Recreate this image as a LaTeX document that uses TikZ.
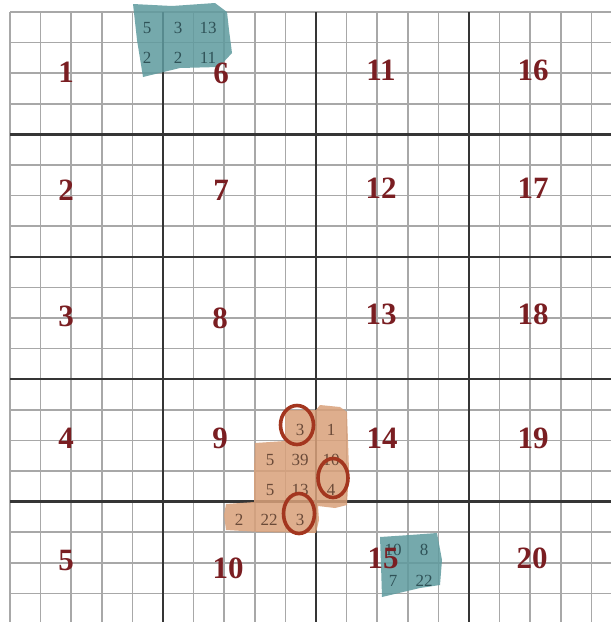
\documentclass[tikz,border=0pt]{standalone}
\usepackage{fontspec}
\setmainfont{Liberation Serif}
\definecolor{numred}{HTML}{7A1E22}
\definecolor{thinc}{HTML}{A8A8A8}
\definecolor{thickc}{HTML}{353535}
\definecolor{tealp}{HTML}{5E9A9E}
\definecolor{orangep}{HTML}{D9A07A}
\definecolor{circc}{HTML}{A3361F}
\definecolor{tealtext}{HTML}{2F5257}
\definecolor{oratext}{HTML}{6A4A38}
\tikzset{
  thinline/.style={draw=thinc, line width=1.7pt},
  thickline/.style={draw=thickc, line width=2.4pt},
  bignum/.style={text=numred, font=\fontsize{31}{31}\selectfont\bfseries, anchor=base, inner sep=0pt},
  tealnum/.style={text=tealtext, font=\fontsize{17}{17}\selectfont, anchor=base, inner sep=0pt},
  oranum/.style={text=oratext, font=\fontsize{17}{17}\selectfont, anchor=base, inner sep=0pt},
  tealpatch/.style={fill=tealp, fill opacity=0.85, draw=none},
  orapatch/.style={fill=orangep, fill opacity=0.85, draw=none},
  ring/.style={draw=circc, line width=3.6pt}
}
\begin{document}
\begin{tikzpicture}[x=1pt,y=-1pt]
\useasboundingbox[fill=white] (0,0) rectangle (611,622);
% thin grid
\foreach \k in {0,...,19} {
  \draw[thinline] ({10+30.6*\k},12) -- ({10+30.6*\k},622);
  \draw[thinline] (10,{12+30.6*\k}) -- (611,{12+30.6*\k});
}
% thick grid
\foreach \k in {5,10,15} {
  \draw[thickline] ({10+30.6*\k},12) -- ({10+30.6*\k},622);
}
\foreach \k in {4,8,12,16} {
  \draw[thickline] (10,{12+30.6*\k}) -- (611,{12+30.6*\k});
}
% patches
\fill[tealpatch] (133,4) -- (172,6) -- (215,3) -- (227,12) -- (229,30) -- (232,53) -- (219,67) -- (180,68) -- (143,77) -- (137,40) -- cycle;
\fill[tealpatch] (380,537) -- (410,535) -- (437,533) -- (442,560) -- (440,585) -- (420,588) -- (382,597) -- (381,565) -- cycle;
\fill[orapatch] (285,410) -- (316,410) -- (320,405) -- (340,407) -- (347,412) -- (349,470) -- (347,505) -- (335,508) -- (318,506) -- (319,520) -- (316,533) -- (260,532) -- (226,530) -- (224,515) -- (226,504) -- (254,502) -- (254,470) -- (255,443) -- (285,441) -- cycle;
% teal numbers top
\node[tealnum] (t1) at (147,33) {5};
\node[tealnum] (t2) at (178,33) {3};
\node[tealnum] (t3) at (208,33) {13};
\node[tealnum] (t4) at (147,63) {2};
\node[tealnum] (t5) at (178,63) {2};
\node[tealnum] (t6) at (208,63) {11};
% teal numbers bottom
\node[tealnum] (b1) at (393,555) {10};
\node[tealnum] (b2) at (424,555) {8};
\node[tealnum] (b3) at (393,586) {7};
\node[tealnum] (b4) at (424,586) {22};
% orange numbers
\node[oranum] (o1) at (300,435) {3};
\node[oranum] (o2) at (331,435) {1};
\node[oranum] (o3) at (270,465) {5};
\node[oranum] (o4) at (300,465) {39};
\node[oranum] (o5) at (331,465) {10};
\node[oranum] (o6) at (270,495) {5};
\node[oranum] (o7) at (300,495) {13};
\node[oranum] (o8) at (331,495) {4};
\node[oranum] (o9) at (239,525) {2};
\node[oranum] (o10) at (269,525) {22};
\node[oranum] (o11) at (300,525) {3};
% rings
\draw[ring] (297,425) ellipse [x radius=16.5, y radius=19.5];
\draw[ring] (333,478) ellipse [x radius=15, y radius=19.5];
\draw[ring] (299,513.5) ellipse [x radius=15.5, y radius=20];
% big numbers
\node[bignum] (n1) at (66,82) {1};
\node[bignum] (n6) at (221,83) {6};
\node[bignum] (n11) at (381,80) {11};
\node[bignum] (n16) at (533,80) {16};
\node[bignum] (n2) at (66,200) {2};
\node[bignum] (n7) at (221,200) {7};
\node[bignum] (n12) at (381,198) {12};
\node[bignum] (n17) at (533,198) {17};
\node[bignum] (n3) at (66,326) {3};
\node[bignum] (n8) at (220,328) {8};
\node[bignum] (n13) at (381,324) {13};
\node[bignum] (n18) at (533,324) {18};
\node[bignum] (n4) at (66,448) {4};
\node[bignum] (n9) at (220,448) {9};
\node[bignum] (n14) at (382,448) {14};
\node[bignum] (n19) at (533,448) {19};
\node[bignum] (n5) at (66,570) {5};
\node[bignum] (n10) at (228,578) {10};
\node[bignum] (n15) at (383,568) {15};
\node[bignum] (n20) at (532,568) {20};
\end{tikzpicture}
\end{document}
